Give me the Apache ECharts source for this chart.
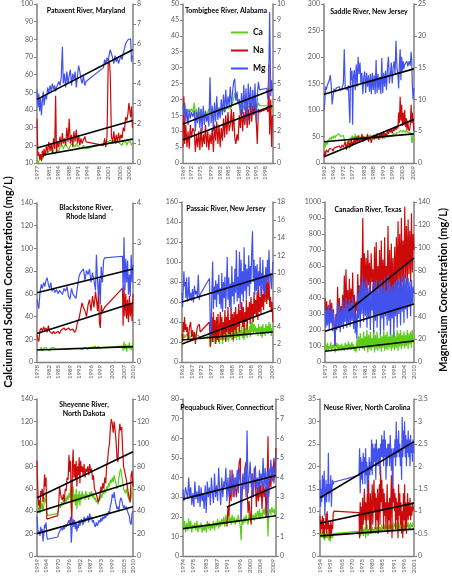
<!DOCTYPE html>
<html><head><meta charset="utf-8">
<script src="https://cdn.jsdelivr.net/npm/echarts@6/dist/echarts.min.js"></script>
<style>html,body{margin:0;padding:0;background:#fff}#c{width:452px;height:576px}</style>
</head><body><div id="c"></div>
<script>
// rows: [year, Ca (mg/L, left axis), Na (mg/L, left axis), Mg (mg/L, right axis)]
const patuxentData = [[1977,12,35,3.7],[1977.3,10,14,2.8],[1977.6,11,16,3.5],[1977.9,12,12,2.6],[1978.2,11,15,3.3],[1978.5,13,11,2.4],[1978.8,12,17,3.1],[1979.1,14,13,3.6],[1979.4,13,18,2.9],[1979.8,15,14,3.4],[1980.2,14,20,3.2],[1980.6,16,16,3.8],[1981,15,22,3.5],[1981.4,17,17,3.9],[1981.8,16,21,3.6],[1982.2,18,15,4.0],[1982.6,16,24,3.7],[1983,17,18,3.9],[1983.3,15,48,3.6],[1983.6,17,16,3.8],[1984,18,22,3.7],[1984.4,17,19,4.1],[1984.8,19,25,3.9],[1985.2,18,20,4.3],[1985.6,20,27,5.85],[1985.9,18,21,4.0],[1986.3,19,24,4.5],[1986.7,21,20,3.8],[1987.1,19,30,4.6],[1987.5,20,22,4.0],[1987.9,18,35,4.4],[1988.3,20,21,4.7],[1988.7,19,26,3.9],[1989.1,21,19,4.5],[1989.5,20,28,4.2],[1989.9,19,22,4.6],[1990.3,21,29,3.8],[1990.7,20,21,4.4],[1991.1,19,26,4.9],[1991.5,20,20,4.6],[1991.9,18,24,4.2],[1992.3,19,21,4.0],[1992.7,20,23,4.4],[1993.2,19,25,3.9],[1993.6,18,22,4.1],[1999.5,21,20,4.8],[1999.9,20,24,5.2],[2000.3,22,19,5.0],[2000.7,21,25,5.3],[2001.1,22,66,5.1],[2001.5,21,68,5.5],[2001.8,23,60,5.7],[2002.2,22,25,5.8],[2002.6,21,22,5.3],[2003,23,28,5.0],[2003.4,22,21,5.4],[2003.8,21,26,5.1],[2004.2,23,22,5.3],[2004.6,22,27,5.0],[2005,21,23,5.2],[2005.4,22,26,5.4],[2005.8,20,24,5.2],[2006.2,22,30,5.5],[2006.6,21,28,5.6],[2007,22,36,6.0],[2007.4,20,34,5.9],[2007.8,22,38,6.2],[2008.1,21,44,6.3],[2008.4,23,40,6.1],[2008.7,22,36,6.25],[2009,20,42,5.1],[2009.3,21,30,5.4]];
const tombigbeeData = [[1969,17,5,3.6],[1969.3,16,21,3.0],[1969.6,18,6,3.8],[1970,15,12,2.6],[1970.4,17,5,3.4],[1970.8,16,10,2.4],[1971.2,17,4.5,3.3],[1971.6,16,12,2.8],[1972,17,8,3.2],[1972.5,16,11,2.9],[1973,19,10,3.3],[1973.4,15,3.5,2.0],[1973.8,17,9,3.2],[1974.2,15,5,2.5],[1974.6,16,10,3.5],[1975,15,4,2.2],[1975.4,17,11,3.4],[1975.8,15,5,2.0],[1976.2,16,9,3.6],[1976.6,15,6,2.4],[1977,16,12,3.3],[1977.4,15,5,2.6],[1977.8,16,10,3.0],[1978.2,17,4,2.3],[1978.6,16,9,5.4],[1979,15,6,2.5],[1979.4,17,11,3.6],[1979.8,16,3.5,2.0],[1980.2,17,12,3.8],[1980.6,16,7,2.6],[1981,17,13,4.2],[1981.4,16,6,2.7],[1981.8,17,12,3.5],[1982.2,16,5,2.8],[1982.6,17,11,4.0],[1983,16,7,3.0],[1983.4,17,14,4.3],[1983.8,16,8,3.2],[1984.2,17,15,4.6],[1984.6,18,9,3.4],[1985,17,16,4.2],[1985.4,18,10,3.6],[1985.8,17,12,4.8],[1986.2,18,17,3.5],[1986.6,19,10,4.4],[1987,20,16,5.1],[1987.4,22,8,5.3],[1987.8,20,6,3.9],[1988.2,21,9,4.5],[1988.6,19,7,3.7],[1989,18,15,4.0],[1989.4,17,11,3.0],[1989.8,18,17,4.4],[1990.2,17,10,3.1],[1990.6,18,16,4.9],[1991,17,12,3.3],[1991.4,18,18,4.7],[1991.8,17,11,2.6],[1992.2,18,17,5.0],[1992.6,17,12,3.5],[1993,18,19,4.8],[1993.4,17,13,3.0],[1993.8,18,18,4.6],[1994.2,17,15,3.4],[1994.6,18,19,5.0],[1995,17,14,2.6],[1995.4,18,6,4.2],[1995.8,19,17,5.1],[1996.2,18,16,4.6],[1998.8,18,17,4.7],[1999.2,17,16,4.0],[1999.5,16,31,5.5],[1999.8,17,9,9.5],[2000.2,18,20,4.2],[2000.5,17,5,5.2],[2000.8,18,15,4.6]];
const saddleData = [[1962,25,12,8.3],[1962.4,38,22,9.5],[1962.8,30,15,12.0],[1963.2,40,25,11.5],[1963.7,35,28,12.2],[1964.2,42,20,12.0],[1964.8,45,27,13.0],[1965.3,48,24,13.8],[1965.8,44,30,12.3],[1966.3,50,26,9.2],[1966.8,46,22,10.5],[1967.3,52,28,11.7],[1967.8,48,25,11.2],[1968.5,52,30,11.8],[1969.2,50,27,11.5],[1970,55,32,12.0],[1970.8,50,28,11.4],[1971.5,48,34,11.8],[1972.2,52,30,12.5],[1972.7,50,35,17.9],[1973.2,38,40,11.7],[1973.8,32,25,12.0],[1974.4,40,35,11.5],[1974.9,35,42,12.2],[1975.4,45,28,8.0],[1975.7,40,38,6.3],[1976,48,30,15.0],[1976.4,42,45,13.0],[1976.8,52,32,14.5],[1977.1,45,40,6.0],[1977.5,50,35,13.5],[1978,42,48,14.6],[1978.5,55,36,11.5],[1979,45,50,15.5],[1979.5,50,38,12.0],[1980,42,52,16.7],[1980.5,52,40,14.0],[1981,46,48,15.8],[1981.5,50,42,12.5],[1982,44,55,14.2],[1982.5,52,40,10.8],[1983,46,50,13.5],[1983.5,50,42,14.4],[1984,44,48,11.0],[1984.5,52,44,14.2],[1985,47,55,12.0],[1985.5,50,40,13.8],[1986,45,50,11.2],[1986.5,53,45,14.0],[1987,47,38,10.8],[1987.5,52,48,14.2],[1988,46,52,11.5],[1988.5,54,44,13.8],[1989,48,50,10.8],[1989.5,52,46,16.2],[1990,46,56,11.0],[1990.5,54,48,14.0],[1991,48,44,11.5],[1991.5,52,55,13.5],[1992,46,50,10.8],[1992.5,54,58,16.5],[1993,48,46,11.0],[1993.5,52,60,14.2],[1994,46,52,12.0],[1994.5,55,56,14.5],[1995,48,50,11.5],[1995.5,54,60,15.0],[1996,48,55,16.7],[1996.5,52,62,12.5],[1997,50,58,13.8],[1997.5,54,64,15.8],[1998,50,56,12.5],[1998.5,55,66,15.0],[1999,52,60,16.0],[1999.5,56,68,14.0],[2000,54,62,19.2],[2000.5,58,70,15.0],[2001,55,65,14.0],[2001.4,60,95,11.7],[2001.8,58,75,15.5],[2002.2,62,125,17.9],[2002.6,60,80,13.0],[2003,64,110,16.7],[2003.4,58,70,14.5],[2003.8,62,95,16.0],[2004.2,60,72,14.8],[2004.6,65,100,15.5],[2005,58,68,15.2],[2005.4,62,85,15.8],[2005.8,60,62,16.0],[2006.2,58,80,15.2],[2006.6,56,65,15.5],[2007,55,60,16.0],[2007.5,57,70,15.3],[2008,52,110,17.5],[2008.3,42,75,16.2],[2008.6,38,95,12.5],[2009,55,80,10.0],[2009.4,50,60,11.8]];
const blackstoneData = [[1978,11,24,1.57],[1978.3,10,20,1.45],[1978.6,12,18,1.34],[1979,11,28,1.75],[1979.4,13,30,1.95],[1979.8,10,27,1.85],[1980.2,12,31,2.0],[1980.6,11,28,1.9],[1981,13,30,2.05],[1981.4,11,26,2.12],[1981.8,12,32,1.95],[1982.2,10,27,1.85],[1982.6,12,28,2.0],[1983,11,25,1.78],[1983.5,13,27,1.85],[1984,11,25,1.75],[1984.5,12,26,1.82],[1985,11,27,1.72],[1985.5,12,25,1.8],[1986,11,28,1.75],[1986.5,10,27,1.7],[1987,11,30,1.85],[1987.5,12,28,1.78],[1988,11,29,1.9],[1988.5,10,30,1.65],[1989,12,28,1.58],[1989.5,11,27,1.85],[1990,12,29,1.7],[1990.5,11,26,1.75],[1991,12,28,1.6],[1991.5,11,35,1.9],[1992,12,38,2.15],[1992.5,12,45,2.25],[1993,11,52,2.2],[1993.5,12,48,2.34],[1994,13,45,2.05],[1994.5,12,40,2.3],[1995,11,50,2.2],[1995.5,13,55,2.34],[1996,12,45,2.0],[1996.5,13,58,2.25],[1997,12,48,2.05],[1997.5,14,62,1.8],[1997.8,12,55,2.7],[1998.2,11,45,2.0],[1998.5,14,62,1.65],[1998.8,12,35,2.1],[1999.1,13,30,1.45],[1999.4,12,50,2.4],[1999.8,13,44,2.0],[2000.2,12,45,2.55],[2000.5,13,48,2.62],[2006.5,14,65,2.66],[2006.7,10,32,1.75],[2007,18,67,3.14],[2007.3,11,40,1.8],[2007.6,16,60,2.6],[2007.9,9,38,2.0],[2008.2,15,55,2.55],[2008.5,12,35,1.7],[2008.8,17,58,2.2],[2009.1,11,40,1.65],[2009.4,14,52,2.7],[2009.7,10,36,2.0],[2010,18,60,2.45]];
const passaicData = [[1962,20,28,7.8],[1962.3,25,20,6.2],[1962.6,22,40,8.0],[1963,28,30,10.2],[1963.3,24,45,8.5],[1963.7,26,32,9.0],[1964,22,38,7.2],[1964.4,28,30,9.5],[1964.8,25,35,6.8],[1965.2,22,22,7.5],[1965.6,27,28,9.6],[1966,24,36,7.0],[1966.5,26,40,7.8],[1967,23,25,6.9],[1967.5,28,32,8.2],[1968,25,22,6.7],[1968.5,30,30,8.6],[1969,26,18,7.6],[1969.5,28,28,8.0],[1970,26,35,7.3],[1970.5,27,33,9.8],[1971,25,38,7.0],[1971.5,23,30,7.6],[1976.3,26,40,9.4],[1976.8,15,15,4.0],[1977.2,20,28,2.8],[1977.6,18,45,8.0],[1978,25,20,11.3],[1978.4,20,50,6.0],[1978.8,28,25,8.5],[1979.2,18,42,7.0],[1979.6,30,18,9.2],[1980,20,45,6.2],[1980.4,32,22,8.8],[1980.8,22,48,7.6],[1981.2,26,20,9.8],[1981.6,18,35,6.5],[1982,30,50,8.3],[1982.4,22,25,6.0],[1982.8,28,45,10.0],[1983.2,18,22,5.6],[1983.6,30,40,9.0],[1984,22,28,7.2],[1984.4,32,52,9.6],[1984.8,20,20,6.0],[1985.2,28,45,8.5],[1985.6,22,30,11.8],[1986,34,55,7.0],[1986.4,20,28,9.5],[1986.8,30,42,6.2],[1987.2,24,25,8.8],[1987.6,35,55,5.8],[1988,22,30,10.8],[1988.4,30,48,7.4],[1988.8,20,22,9.0],[1989.2,32,50,6.5],[1989.6,24,32,10.5],[1990,36,55,7.8],[1990.4,22,28,12.6],[1990.8,30,48,6.8],[1991.2,25,35,9.6],[1991.6,34,58,7.2],[1992,22,30,12.4],[1992.4,32,52,6.0],[1992.8,26,40,11.5],[1993.2,36,60,7.6],[1993.6,24,35,10.2],[1994,30,55,6.8],[1994.4,22,28,12.9],[1994.8,34,50,8.0],[1995.2,26,40,11.0],[1995.6,38,62,7.0],[1996,24,32,10.5],[1996.4,32,55,8.5],[1996.8,28,42,12.0],[1997.2,36,60,7.4],[1997.6,25,38,10.8],[1998,40,65,8.8],[1998.4,30,45,12.5],[1998.8,45,58,14.7],[1999.2,28,40,9.0],[1999.6,38,70,11.5],[2000,30,48,7.5],[2000.4,36,62,10.8],[2000.8,28,45,8.0],[2001.2,34,70,11.0],[2001.6,26,42,7.8],[2002,38,75,10.2],[2002.4,30,50,8.5],[2002.8,35,65,11.8],[2003.2,26,48,7.4],[2003.6,36,78,10.0],[2003.8,24,55,8.2],[2004.2,38,68,11.5],[2004.6,28,52,8.0],[2005,34,85,9.8],[2005.4,26,60,7.5],[2005.8,38,95,10.5],[2006.2,30,58,8.8],[2006.6,36,80,11.5],[2007,28,62,9.0],[2007.4,40,85,12.6],[2007.8,30,55,9.5],[2008.2,38,65,10.0],[2008.6,26,50,8.2],[2009,34,60,9.5],[2009.4,30,40,11.3]];
const canadianData = [[1957,80,400,49],[1957.5,110,260,30],[1958,70,380,45],[1958.5,120,280,32],[1959,75,350,50],[1959.5,100,250,28],[1960,80,390,46],[1960.5,125,270,34],[1961,70,370,48],[1961.5,105,240,27],[1962,85,330,44],[1962.5,115,220,30],[1963,60,100,14],[1963.5,90,300,40],[1964,120,220,28],[1964.5,80,470,52],[1965,110,260,30],[1965.5,75,400,49],[1966,105,230,26],[1966.5,70,350,45],[1967,115,280,32],[1967.5,80,420,54],[1968,100,250,29],[1968.5,70,540,47],[1969,120,300,35],[1969.5,85,580,56],[1970,110,280,30],[1970.5,75,450,50],[1971,130,260,33],[1971.5,80,520,55],[1972,110,300,31],[1972.5,75,460,52],[1973,125,320,36],[1973.5,85,560,57],[1974,110,280,29],[1974.5,70,420,48],[1975,100,250,25],[1975.5,60,380,42],[1976,140,320,20],[1976.5,90,550,60],[1977,160,400,38],[1977.5,70,480,66],[1978,180,350,30],[1978.5,90,650,70],[1979,150,450,42],[1979.5,80,900,75],[1980,190,420,35],[1980.5,70,680,68],[1981,160,450,40],[1981.5,90,650,72],[1982,200,400,30],[1982.5,60,700,65],[1983,170,480,38],[1983.5,80,620,70],[1984,190,420,28],[1984.5,70,680,62],[1985,150,500,45],[1985.5,90,580,68],[1986,200,350,25],[1986.5,60,720,70],[1987,170,420,36],[1987.5,80,750,72],[1988,190,380,30],[1988.5,70,600,64],[1989,150,450,42],[1989.5,85,700,70],[1990,180,340,24],[1990.5,65,760,72],[1991,160,430,38],[1991.5,90,640,66],[1992,200,330,28],[1992.5,70,780,74],[1993,170,420,40],[1993.5,80,600,62],[1994,190,380,32],[1994.5,75,850,76],[1995,160,400,36],[1995.5,90,700,70],[1996,200,320,24],[1996.5,70,740,66],[1997,170,420,38],[1997.5,85,650,68],[1998,190,300,22],[1998.5,75,720,70],[1999,160,420,40],[1999.5,90,780,72],[2000,200,400,30],[2000.5,70,880,74],[2001,180,480,42],[2001.5,95,800,70],[2002,200,420,32],[2002.5,80,900,76],[2003,170,500,44],[2003.5,100,760,72],[2004,190,450,34],[2004.5,85,970,77],[2005,170,520,46],[2005.5,100,850,73],[2006,200,480,38],[2006.5,80,890,74],[2007,180,550,48],[2007.5,110,820,70],[2008,190,500,40],[2008.5,90,930,72],[2009,200,560,50],[2009.5,120,800,66],[2010,160,700,60]];
const sheyenneData = [[1959,50,85,35],[1959.4,45,60,25],[1959.8,40,45,20],[1960.2,43,50,22],[1960.6,38,42,18],[1961,50,58,26],[1961.4,42,55,22],[1961.8,47,60,24],[1962.2,40,48,13],[1962.6,45,55,20],[1963,52,73,28],[1963.4,48,62,25],[1963.8,55,70,30],[1964.2,40,33,18],[1964.6,36,32,15],[1970,38,36,17],[1970.5,42,45,20],[1971,45,62,22],[1971.5,43,55,21],[1972,48,52,25],[1972.5,45,50,23],[1973,50,55,26],[1973.5,47,48,24],[1974,52,60,28],[1974.5,48,58,26],[1975,54,70,27],[1975.5,50,68,30],[1976,56,90,32],[1976.4,52,75,28],[1976.8,60,85,35],[1977.2,44,45,12],[1977.5,40,30,20],[1977.8,58,80,30],[1978.2,62,95,33],[1978.6,48,70,26],[1979,55,82,32],[1979.4,45,68,24],[1979.8,60,85,30],[1980.2,42,62,22],[1980.6,55,80,28],[1981,48,72,25],[1981.4,58,88,32],[1981.8,45,65,27],[1982.2,55,85,30],[1982.6,50,75,33],[1983,58,80,30],[1983.5,52,72,28],[1984,55,82,35],[1984.5,50,70,30],[1985,58,78,34],[1985.5,52,75,32],[1986,55,80,36],[1986.5,50,72,30],[1987,57,82,38],[1987.5,53,75,33],[1988,58,78,35],[1988.5,52,68,30],[1989,56,72,32],[1989.5,50,60,28],[1990,52,58,26],[1990.5,48,55,30],[1991,50,52,27],[1991.5,46,48,29],[1992,52,50,32],[1992.5,50,55,30],[1993,55,62,34],[1993.5,52,58,31],[1994,58,65,35],[1994.5,55,60,33],[1995,60,70,36],[1995.5,56,65,34],[1996,62,80,38],[1996.5,60,85,36],[1997,65,95,40],[1997.5,62,100,38],[1998,68,115,45],[1998.5,65,122,48],[1999,70,118,55],[1999.5,66,110,52],[2000,72,120,57],[2000.5,68,112,50],[2001,64,102,46],[2001.5,60,88,42],[2002,62,84,44],[2002.5,70,108,40],[2003,75,118,48],[2003.5,78,112,52],[2004,72,115,50],[2004.5,66,95,46],[2005,60,80,43],[2005.5,58,76,45],[2006,56,72,42],[2006.5,60,68,44],[2007,55,62,40],[2007.5,52,56,38],[2008,50,52,36],[2008.5,48,48,30],[2009,52,72,28],[2009.5,60,76,38],[2010,65,62,40]];
const pequabuckData = [[1974,20,null,3.4],[1974.3,15,null,2.8],[1974.6,18,null,3.0],[1975,12,null,3.5],[1975.4,17,null,3.2],[1975.8,13,null,2.9],[1976.2,19,null,4.0],[1976.6,14,null,3.0],[1977,18,null,3.5],[1977.4,12,null,2.6],[1977.8,16,null,3.2],[1978.2,14,null,2.5],[1978.6,17,null,3.8],[1979,13,null,2.9],[1979.4,18,null,3.3],[1979.8,12,null,2.7],[1980.2,16,null,3.6],[1980.6,14,null,2.5],[1981,17,null,3.5],[1981.4,12,null,2.8],[1981.8,15,null,3.2],[1982.2,13,null,2.4],[1982.6,16,null,3.6],[1983,12,null,2.2],[1983.4,18,null,3.8],[1983.8,14,null,3.0],[1984.2,17,null,3.5],[1984.6,13,null,2.6],[1985,16,null,4.0],[1985.4,14,null,3.2],[1985.8,18,null,2.7],[1986.2,13,null,4.2],[1986.6,17,null,3.0],[1987,15,null,3.6],[1987.4,19,null,2.8],[1987.8,14,null,4.5],[1988.2,18,null,3.4],[1988.6,15,null,2.6],[1989,19,null,4.0],[1989.4,16,null,3.0],[1989.8,20,null,3.8],[1990.2,15,null,3.5],[1990.6,21,null,4.5],[1991,16,15,2.8],[1991.4,22,25,4.0],[1991.8,17,20,3.0],[1992.2,20,38,4.4],[1992.6,16,28,3.2],[1993,21,44,3.6],[1993.4,17,30,4.2],[1993.8,20,35,3.0],[1994.2,16,40,4.0],[1994.6,19,30,3.5],[1995,17,35,4.4],[1995.4,21,42,3.2],[1995.8,18,48,4.5],[1996.2,15,50,3.8],[1996.5,8,18,1.8],[1996.8,18,30,3.5],[1997.2,16,38,4.2],[1997.6,20,40,3.4],[1998,17,45,4.5],[1998.4,21,48,3.0],[1998.8,18,35,6.4],[1999.2,16,22,3.2],[1999.6,22,28,4.0],[2000,18,20,4.8],[2000.4,23,16,3.5],[2000.8,19,42,4.2],[2001.2,21,30,3.0],[2001.6,18,45,4.0],[2002,22,38,4.6],[2002.4,19,25,3.4],[2002.8,23,35,4.0],[2003.2,20,28,3.2],[2003.6,24,40,4.4],[2003.8,19,30,3.6],[2004.2,22,36,4.2],[2004.6,20,24,3.5],[2005,24,38,5.0],[2005.4,21,30,3.5],[2005.8,25,35,4.5],[2006.2,20,20,3.0],[2006.6,23,38,4.3],[2006.9,10,61,2.0],[2007.2,22,30,4.5],[2007.6,24,42,3.8],[2008,21,35,4.9],[2008.4,25,45,4.0],[2008.8,22,38,4.6],[2009.2,24,50,3.7],[2009.6,21,40,4.4],[2010,27,55,5.3]];
const neuseData = [[1954,5,9,1.7],[1954.3,4,5,1.1],[1954.6,5,8,1.5],[1954.9,4.5,6,1.2],[1955.2,5.5,9,1.8],[1955.5,4,5,1.3],[1955.8,5,8.5,1.6],[1956.1,4,4,1.9],[1956.4,3.5,7,0.9],[1956.7,5,6,1.3],[1957,4.5,9.5,1.7],[1957.3,4,5,1.2],[1957.6,5.5,10,1.6],[1957.9,4,6,1.4],[1958.2,5,8,2.3],[1958.5,3.5,5,1.2],[1958.8,4.5,7,1.6],[1959.1,3.2,4,1.4],[1959.4,5,8,1.8],[1959.7,4,5,1.1],[1960,5,7,1.5],[1960.3,4,6,1.7],[1960.6,5,9.5,1.6],[1961,5.2,10,1.65],[1973.5,5.5,9.7,1.8],[1973.8,4,4,2.4],[1974.1,6,12,1.4],[1974.4,4.5,6,2.2],[1974.7,6.5,11,1.7],[1975,5,5,2.1],[1975.3,7,13,1.6],[1975.6,4.5,7,2.3],[1975.9,6,10,1.9],[1976.2,5,15,2.2],[1976.5,6.5,8,1.6],[1976.8,4,12,2.4],[1977.1,6,6,1.8],[1977.4,5,11,2.1],[1977.7,7,14,1.4],[1978,4.5,8,2.0],[1978.3,6,17,1.7],[1978.6,5,10,2.2],[1978.9,6.5,6,1.8],[1979.2,5,14,2.1],[1979.5,6,5,1.9],[1979.8,5.5,11,2.6],[1980.1,6.5,16,1.8],[1980.4,5,7,2.5],[1980.7,6,13,2.0],[1981,5.5,17,2.4],[1981.3,6.5,10,2.1],[1981.6,5,14,2.5],[1981.9,6,6,1.7],[1982.2,5.5,13,2.6],[1982.5,6.5,8,2.0],[1982.8,5,15,2.3],[1983.1,6,5,2.4],[1983.4,7,12,2.0],[1983.7,5.5,16,2.4],[1984,6.5,7,1.8],[1984.3,5.5,20,2.5],[1984.6,6,12,2.2],[1984.9,7,17,2.7],[1985.2,5.5,10,2.2],[1985.5,6.5,15,2.6],[1985.8,6,6,2.0],[1986.1,7,14,2.8],[1986.4,5.5,9,2.2],[1986.7,6.5,12,2.6],[1987,6,6,1.7],[1987.3,7,11,2.4],[1987.6,5.5,16,2.0],[1987.9,6.5,5,2.5],[1988.2,6,12,2.2],[1988.5,7,8,2.5],[1988.8,5.5,13,2.0],[1989.1,6.5,6,2.7],[1989.4,6,12,2.3],[1989.7,7,18,1.9],[1990,6,4,2.4],[1990.3,7,20,1.5],[1990.6,5.5,12,2.2],[1990.9,7.5,15,2.4],[1991.2,6.5,10,2.2],[1991.5,7,14,2.6],[1991.8,6,6,2.0],[1992.1,7.5,13,3.0],[1992.4,6,8,2.2],[1992.7,7,12,2.6],[1993,6,4,2.3],[1993.3,7.5,16,2.8],[1993.6,5.5,9,2.2],[1993.9,7,14,2.5],[1994.2,6,7,2.0],[1994.5,7,12,2.4],[1994.8,5.5,5,1.7],[1995.1,7.5,10,3.1],[1995.4,6,4,2.2],[1995.7,7,14,2.8],[1996,5.5,8,2.4],[1996.3,7,16,3.0],[1996.6,6,6,2.2],[1996.9,7.5,12,2.7],[1997.2,6,5,2.0],[1997.5,7,10,2.6],[1997.8,6.5,14,2.3],[1998.1,7.5,8,2.8],[1998.4,6,12,2.2],[1998.7,7,9,2.6],[1999,6,13,2.0],[1999.3,7.5,8,2.7],[1999.6,6.5,11,2.3],[1999.9,7,9,2.5],[2000.2,6.5,12,2.1],[2000.5,7.5,10,2.6],[2000.8,7,11,2.3]];

// trend lines: [Ca, Na, Mg] each [x0, y0, x1, y1] (Mg in right-axis units)
const patuxentTrend = [[1979,14.5,2009.4,23.5],[1977,18.5,2009.4,34],[1977,3.2,2009.4,5.7]];
const tombigbeeTrend = [null,[1969,7.3,2000.8,18],[1969,2.46,2000.8,4.6]];
const saddleTrend = [[1962,40,2009.4,55],[1962,12,2009.4,82],[1962,10.8,2009.4,14.8]];
const blackstoneTrend = [[1978,10.5,2010,13.5],[1978,25,2010,52],[1978,1.74,2010,2.34]];
const passaicTrend = [[1962,22,2009.4,30],[1962,18,2009.4,52],[1962,6.75,2009.4,9.9]];
const canadianTrend = [[1957,67,2010,131],[1971,320,2010,650],[1957,27,2010,50.7]];
const sheyenneTrend = [[1959,39,2010,66],[1959,52,2010,93],[1959,20,2010,44]];
const pequabuckTrend = [[1974,14,2010,20.5],[1991,25,2010,35.5],[1974,2.9,2010,4.1]];
const neuseTrend = [[1954,4.5,2001,6],[1954,7.3,2001,11.8],[1954,1.3,2001,2.55]];

// x tick labels (years)
const patuxentTicks = [1977,1981,1984,1988,1991,1994,1998,2001,2005,2008];
const tombigbeeTicks = [1969,1972,1975,1979,1982,1985,1989,1992,1995,1998];
const saddleTicks = [1962,1967,1972,1977,1983,1988,1993,1998,2003,2009];
const blackstoneTicks = [1978,1982,1985,1989,1992,1996,1999,2003,2007,2010];
const passaicTicks = [1962,1967,1972,1977,1983,1988,1993,1998,2003,2009];
const canadianTicks = [1957,1963,1969,1975,1981,1986,1992,1998,2004,2010];
const sheyenneTicks = [1959,1964,1970,1976,1982,1987,1993,1999,2005,2010];
const pequabuckTicks = [1974,1978,1983,1987,1991,1996,2000,2004,2009];
const neuseTicks = [1954,1959,1965,1970,1975,1980,1985,1991,1996,2001];

const titles = ['Patuxent River, Maryland','Tombigbee River, Alabama','Saddle River, New Jersey','Blackstone River,\nRhode Island','Passaic River, New Jersey','Canadian River, Texas','Sheyenne River,\nNorth Dakota','Pequabuck River, Connecticut','Neuse River, North Carolina'];
const seriesNames = ['Ca','Na','Mg'];

const FONT = 'Lato, "Liberation Sans", sans-serif';
const COLORS = ['#5ccd19','#cc0a0a','#4152ef'];
const AX = '#808080', LBL = '#595959';

const panels = [
 {data:patuxentData, trend:patuxentTrend, ticks:patuxentTicks, x:[1977,2009.5], yl:[10,100,10], yr:[0,8,1], g:[37,4,96,159], t:[86,11]},
 {data:tombigbeeData, trend:tombigbeeTrend, ticks:tombigbeeTicks, x:[1969,2001], yl:[0,50,5], yr:[0,10,1], g:[183,4,90,159], t:[226,11]},
 {data:saddleData, trend:saddleTrend, ticks:saddleTicks, x:[1962,2009.5], yl:[0,300,50], yr:[0,25,5], g:[324,4,90,159], t:[369,12]},
 {data:blackstoneData, trend:blackstoneTrend, ticks:blackstoneTicks, x:[1978,2010], yl:[0,140,20], yr:[0,4,1], g:[37,203,96,159], t:[86,212]},
 {data:passaicData, trend:passaicTrend, ticks:passaicTicks, x:[1962,2009.5], yl:[0,160,20], yr:[0,18,2], g:[182,202,91,160], t:[226,209]},
 {data:canadianData, trend:canadianTrend, ticks:canadianTicks, x:[1957,2010], yl:[0,1000,100], yr:[0,140,20], g:[325,202,89,160], t:[368,210]},
 {data:sheyenneData, trend:sheyenneTrend, ticks:sheyenneTicks, x:[1959,2010], yl:[0,140,20], yr:[0,140,20], g:[37,399,96,160], t:[84,409]},
 {data:pequabuckData, trend:pequabuckTrend, ticks:pequabuckTicks, x:[1974,2010], yl:[0,80,10], yr:[0,8,1], g:[183,399,93,160], t:[227,408]},
 {data:neuseData, trend:neuseTrend, ticks:neuseTicks, x:[1954,2001], yl:[0,35,5], yr:[0,3.5,0.5], g:[320,399,94,160], t:[367,408]}
];

const grid=[], xAxis=[], yAxis=[], series=[], graphic=[];
panels.forEach((p,i)=>{
  grid.push({left:p.g[0], top:p.g[1], width:p.g[2], height:p.g[3]});
  xAxis.push({gridIndex:i, type:'value', min:p.x[0], max:p.x[1],
    axisLine:{show:true, onZero:false, lineStyle:{color:AX, width:1.3}},
    axisTick:{show:false},
    axisLabel:{customValues:p.ticks, rotate:90, fontSize:6, color:LBL, margin:3, fontFamily:FONT, formatter:v=>String(v)},
    splitLine:{show:false}});
  const yCommon = {type:'value', gridIndex:i, splitLine:{show:false},
    axisLine:{show:true, onZero:false, lineStyle:{color:AX, width:1.5}},
    axisTick:{show:true, length:3, lineStyle:{color:AX}},
    axisLabel:{fontSize:7, color:LBL, margin:4, fontFamily:FONT, formatter:v=>String(v)}};
  yAxis.push(Object.assign({}, yCommon, {position:'left', min:p.yl[0], max:p.yl[1], interval:p.yl[2]}));
  yAxis.push(Object.assign({}, yCommon, {position:'right', min:p.yr[0], max:p.yr[1], interval:p.yr[2]}));
  [0,1,2].forEach(k=>{
    const pts = p.data.filter(r=>r[k+1]!==null).map(r=>[r[0], r[k+1]]);
    series.push({type:'line', name:seriesNames[k], xAxisIndex:i, yAxisIndex:2*i+(k===2?1:0),
      data:pts, showSymbol:false, symbol:'none', color:COLORS[k], lineStyle:{width:1.2, color:COLORS[k]}, z:2+k, silent:true});
  });
  p.trend.forEach((tr,k)=>{
    if(!tr) return;
    series.push({type:'line', xAxisIndex:i, yAxisIndex:2*i+(k===2?1:0), data:[[tr[0],tr[1]],[tr[2],tr[3]]],
      showSymbol:false, symbol:'none', lineStyle:{width:1.6, color:'#000'}, z:10, silent:true});
  });
  graphic.push({type:'text', x:p.t[0], y:p.t[1], z:100, style:{text:titles[i], align:'center', verticalAlign:'middle',
    fontSize:7, fontWeight:'bold', fontFamily:FONT, fill:'#000', lineHeight:9}});
});
graphic.push({type:'text', x:8, y:282, rotation:Math.PI/2, style:{text:'Calcium and Sodium Concentrations (mg/L)', align:'center', verticalAlign:'middle', fontSize:11, fontWeight:'bold', fontFamily:FONT, fill:'#000'}});
graphic.push({type:'text', x:443, y:290, rotation:Math.PI/2, style:{text:'Magnesium Concentration (mg/L)', align:'center', verticalAlign:'middle', fontSize:11, fontWeight:'bold', fontFamily:FONT, fill:'#000'}});

const chart = echarts.init(document.getElementById('c'), null, {renderer:'canvas'});
chart.setOption({
  animation:false,
  textStyle:{fontFamily:FONT},
  grid, xAxis, yAxis, series, graphic,
  legend:{data:seriesNames, orient:'vertical', left:226, top:23, itemWidth:17, itemHeight:2, itemGap:9, icon:'rect',
    textStyle:{fontSize:8.5, fontWeight:'bold', color:'#000', fontFamily:FONT}, selectedMode:false}
});
</script></body></html>
